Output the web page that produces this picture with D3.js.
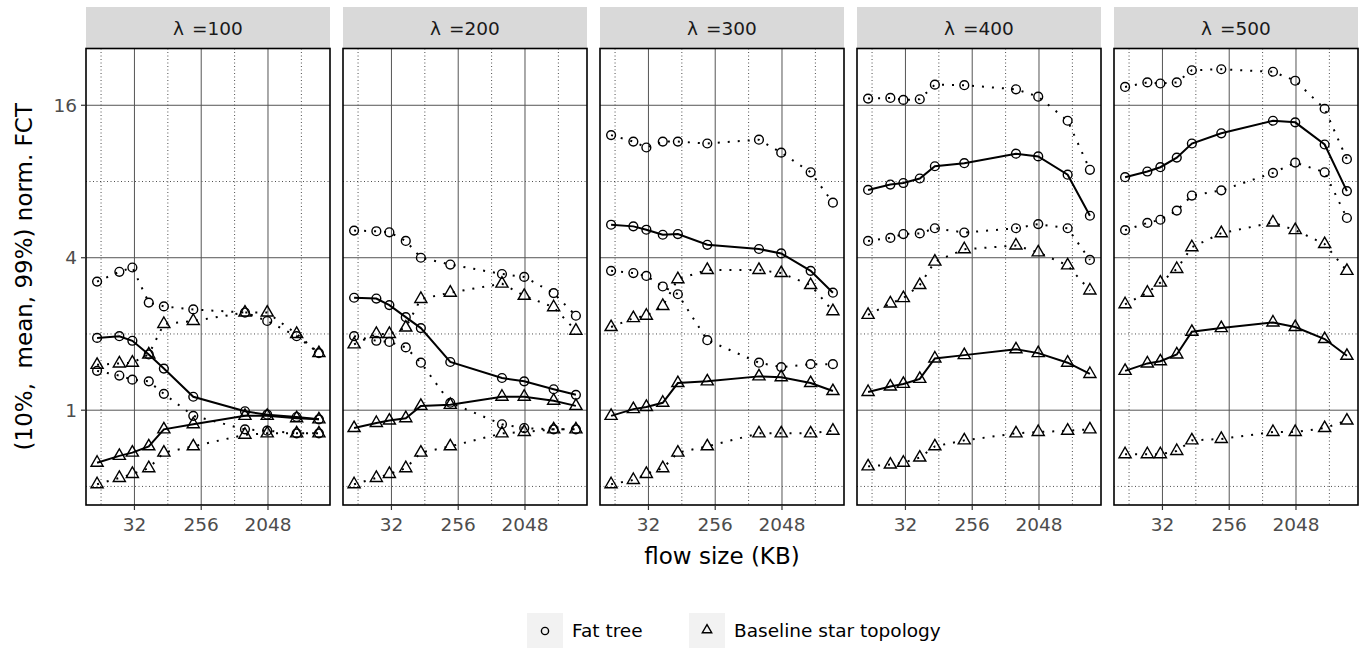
<!DOCTYPE html>
<html lang="en">
<head>
<meta charset="UTF-8">
<title>norm. FCT by flow size</title>
<script src="https://d3js.org/d3.v7.min.js"></script>
<style>
  body { margin: 0; background: #fff; }
  svg { display: block; font-family: "DejaVu Sans", sans-serif; }
</style>
</head>
<body>
<div id="chart"></div>
<script>
// flow sizes (KB) and load levels
const flowSizes = [10, 20, 30, 50, 80, 200, 1000, 2000, 5000, 10000];
const lambdas = [100, 200, 300, 400, 500];
const xTicks = [32, 256, 2048];
const yTicks = [1, 4, 16];

// one row per lambda
const fatP99 = [
  [3.22, 3.52, 3.66, 2.66, 2.57, 2.50, 2.43, 2.25, 1.96, 1.68],
  [5.12, 5.09, 5.04, 4.66, 4.00, 3.76, 3.45, 3.36, 2.90, 2.36],
  [12.2, 11.5, 10.9, 11.5, 11.5, 11.3, 11.7, 10.4, 8.7, 6.6],
  [17.0, 17.1, 16.8, 16.9, 19.3, 19.2, 18.5, 17.3, 13.9, 8.9],
  [18.9, 19.7, 19.5, 19.7, 22.0, 22.2, 21.7, 20.0, 15.5, 9.8]
];
const fatMean = [
  [1.93, 1.96, 1.88, 1.66, 1.46, 1.13, 0.99, 0.96, 0.94, 0.92],
  [2.78, 2.76, 2.60, 2.33, 2.11, 1.55, 1.34, 1.30, 1.21, 1.15],
  [5.40, 5.32, 5.16, 4.93, 4.96, 4.50, 4.33, 4.16, 3.55, 2.91],
  [7.41, 7.78, 7.89, 8.22, 9.19, 9.45, 10.3, 10.05, 8.51, 5.86],
  [8.32, 8.76, 9.11, 9.94, 11.3, 12.4, 13.9, 13.7, 11.2, 7.33]
];
const fatP10 = [
  [1.43, 1.37, 1.32, 1.30, 1.16, 0.95, 0.84, 0.83, 0.81, 0.81],
  [1.96, 1.88, 1.86, 1.77, 1.54, 1.07, 0.88, 0.85, 0.84, 0.84],
  [3.55, 3.48, 3.39, 3.08, 2.87, 1.89, 1.54, 1.48, 1.52, 1.52],
  [4.66, 4.79, 4.96, 4.99, 5.23, 5.03, 5.23, 5.43, 5.23, 3.92],
  [5.14, 5.49, 5.65, 6.14, 7.04, 7.38, 8.65, 9.50, 8.70, 5.74]
];
const starP99 = [
  [1.51, 1.53, 1.54, 1.66, 2.19, 2.25, 2.43, 2.43, 2.00, 1.68],
  [1.82, 2.00, 2.00, 2.12, 2.75, 2.91, 3.16, 2.83, 2.55, 2.06],
  [2.13, 2.31, 2.36, 2.58, 3.29, 3.58, 3.58, 3.48, 3.12, 2.46],
  [2.38, 2.64, 2.77, 3.12, 3.86, 4.32, 4.47, 4.20, 3.73, 2.97],
  [2.62, 2.91, 3.19, 3.61, 4.40, 5.00, 5.51, 5.14, 4.53, 3.55]
];
const starMean = [
  [0.62, 0.66, 0.68, 0.72, 0.84, 0.88, 0.95, 0.95, 0.93, 0.92],
  [0.85, 0.89, 0.91, 0.93, 1.04, 1.05, 1.13, 1.13, 1.09, 1.04],
  [0.95, 1.01, 1.03, 1.07, 1.28, 1.30, 1.36, 1.35, 1.28, 1.19],
  [1.18, 1.24, 1.27, 1.33, 1.60, 1.65, 1.74, 1.68, 1.54, 1.39],
  [1.43, 1.53, 1.56, 1.66, 2.04, 2.11, 2.22, 2.13, 1.91, 1.64]
];
const starP10 = [
  [0.51, 0.54, 0.56, 0.59, 0.68, 0.72, 0.80, 0.81, 0.81, 0.81],
  [0.51, 0.54, 0.56, 0.59, 0.68, 0.72, 0.81, 0.82, 0.84, 0.84],
  [0.51, 0.53, 0.56, 0.59, 0.68, 0.72, 0.81, 0.81, 0.81, 0.83],
  [0.60, 0.61, 0.62, 0.65, 0.72, 0.76, 0.81, 0.82, 0.83, 0.84],
  [0.67, 0.67, 0.67, 0.69, 0.76, 0.77, 0.82, 0.82, 0.85, 0.91]
];

const series = [
  { topo: "fat", rows: fatP99, dotted: true },
  { topo: "fat", rows: fatMean, dotted: false },
  { topo: "fat", rows: fatP10, dotted: true },
  { topo: "star", rows: starP99, dotted: true },
  { topo: "star", rows: starMean, dotted: false },
  { topo: "star", rows: starP10, dotted: true }
];

const W = 1362, H = 648;
const panelX0 = 86, panelW = 244, panelStep = 257;
const panelTop = 48.5, panelBottom = 505, stripTop = 7;
const panelH = panelBottom - panelTop;

// log2 domains with ggplot-like 5% expansion
function expandLog(vals) {
  const lo = Math.log2(d3.min(vals)), hi = Math.log2(d3.max(vals));
  const pad = (hi - lo) * 0.05;
  return [Math.pow(2, lo - pad), Math.pow(2, hi + pad)];
}
const allY = series.flatMap(s => s.rows.flat());

const x = d3.scaleLog().base(2).domain(expandLog(flowSizes)).range([0, panelW]);
const y = d3.scaleLog().base(2).domain(expandLog(allY)).range([panelH, 0]);

function minorBreaks(scale, majors) {
  const l = majors.map(Math.log2);
  const step = l[1] - l[0];
  const out = [l[0] - step / 2];
  l.forEach(v => out.push(v + step / 2));
  const [a, b] = scale.domain().map(Math.log2);
  return out.filter(v => v >= a && v <= b).map(v => Math.pow(2, v));
}
const xMinor = minorBreaks(x, xTicks);
const yMinor = minorBreaks(y, yTicks);

const svg = d3.select("#chart").append("svg")
  .attr("width", W).attr("height", H);

const triPath = "M0,-7L6.06,3.5L-6.06,3.5Z";

lambdas.forEach((lam, i) => {
  const px = panelX0 + i * panelStep;

  // strip
  svg.append("rect")
    .attr("x", px).attr("y", stripTop)
    .attr("width", panelW).attr("height", panelTop - stripTop)
    .attr("fill", "#d9d9d9");
  const st = svg.append("text")
    .attr("x", px + panelW / 2).attr("y", 35)
    .attr("text-anchor", "middle")
    .attr("font-size", 18.5).attr("fill", "#1a1a1a")
    .attr("xml:space", "preserve");
  st.append("tspan").text("λ");
  st.append("tspan").attr("dx", 8).text("=" + lam);

  const g = svg.append("g").attr("transform", `translate(${px},${panelTop})`);

  // minor grid (dotted)
  g.selectAll(".xmin").data(xMinor).enter().append("line")
    .attr("x1", d => x(d)).attr("x2", d => x(d))
    .attr("y1", 0).attr("y2", panelH)
    .attr("stroke", "#222").attr("stroke-width", 0.8)
    .attr("stroke-dasharray", "1,2.5");
  g.selectAll(".ymin").data(yMinor).enter().append("line")
    .attr("x1", 0).attr("x2", panelW)
    .attr("y1", d => y(d)).attr("y2", d => y(d))
    .attr("stroke", "#222").attr("stroke-width", 0.8)
    .attr("stroke-dasharray", "1,2.5");

  // major grid
  g.selectAll(".xmaj").data(xTicks).enter().append("line")
    .attr("x1", d => x(d)).attr("x2", d => x(d))
    .attr("y1", 0).attr("y2", panelH)
    .attr("stroke", "#555").attr("stroke-width", 1);
  g.selectAll(".ymaj").data(yTicks).enter().append("line")
    .attr("x1", 0).attr("x2", panelW)
    .attr("y1", d => y(d)).attr("y2", d => y(d))
    .attr("stroke", "#555").attr("stroke-width", 1);

  const line = d3.line()
    .x((d, j) => x(flowSizes[j]))
    .y(d => y(d));

  series.forEach(s => {
    g.append("path")
      .datum(s.rows[i])
      .attr("fill", "none")
      .attr("stroke", "#000")
      .attr("stroke-width", s.dotted ? 2 : 2)
      .attr("stroke-dasharray", s.dotted ? "2,8" : null)
      .attr("d", line);
  });

  series.forEach(s => {
    const pts = g.selectAll(null).data(s.rows[i]).enter();
    if (s.topo === "fat") {
      pts.append("circle")
        .attr("cx", (d, j) => x(flowSizes[j]))
        .attr("cy", d => y(d))
        .attr("r", 4.4)
        .attr("fill", "none").attr("stroke", "#000").attr("stroke-width", 1.4);
    } else {
      pts.append("path")
        .attr("d", triPath)
        .attr("transform", (d, j) => `translate(${x(flowSizes[j])},${y(d)})`)
        .attr("fill", "none").attr("stroke", "#000").attr("stroke-width", 1.4);
    }
  });

  // border
  g.append("rect")
    .attr("width", panelW).attr("height", panelH)
    .attr("fill", "none").attr("stroke", "#000").attr("stroke-width", 1.6);

  // x axis ticks + labels
  const xa = svg.append("g").attr("transform", `translate(${px},${panelBottom})`);
  xa.selectAll("line").data(xTicks).enter().append("line")
    .attr("x1", d => x(d)).attr("x2", d => x(d))
    .attr("y1", 0).attr("y2", 5)
    .attr("stroke", "#333").attr("stroke-width", 1.2);
  xa.selectAll("text").data(xTicks).enter().append("text")
    .attr("x", d => x(d)).attr("y", 26)
    .attr("text-anchor", "middle")
    .attr("font-size", 18.5).attr("fill", "#4d4d4d")
    .text(d => d);
});

// y axis on first panel
const ya = svg.append("g").attr("transform", `translate(${panelX0},${panelTop})`);
ya.selectAll("line").data(yTicks).enter().append("line")
  .attr("x1", -5).attr("x2", 0)
  .attr("y1", d => y(d)).attr("y2", d => y(d))
  .attr("stroke", "#333").attr("stroke-width", 1.2);
ya.selectAll("text").data(yTicks).enter().append("text")
  .attr("x", -9).attr("y", d => y(d))
  .attr("dy", "0.35em")
  .attr("text-anchor", "end")
  .attr("font-size", 18.5).attr("fill", "#4d4d4d")
  .text(d => d);

// axis titles
const plotMid = panelX0 + (4 * panelStep + panelW) / 2;
svg.append("text")
  .attr("x", plotMid).attr("y", 564)
  .attr("text-anchor", "middle")
  .attr("font-size", 23).attr("fill", "#000")
  .text("flow size (KB)");
svg.append("text")
  .attr("transform", `translate(32,${panelTop + panelH / 2}) rotate(-90)`)
  .attr("text-anchor", "middle")
  .attr("font-size", 23).attr("fill", "#000")
  .attr("xml:space", "preserve")
  .style("white-space", "pre")
  .text("(10%,  mean, 99%) norm. FCT");

// legend
const legend = svg.append("g");
const keys = [
  { label: "Fat tree", topo: "fat", x: 527 },
  { label: "Baseline star topology", topo: "star", x: 689 }
];
keys.forEach(k => {
  legend.append("rect")
    .attr("x", k.x).attr("y", 613).attr("width", 36).attr("height", 36)
    .attr("fill", "#f2f2f2");
  if (k.topo === "fat") {
    legend.append("circle")
      .attr("cx", k.x + 18).attr("cy", 631).attr("r", 3.6)
      .attr("fill", "none").attr("stroke", "#000").attr("stroke-width", 1.4);
  } else {
    legend.append("path")
      .attr("d", "M0,-5.4L4.7,2.7L-4.7,2.7Z")
      .attr("transform", `translate(${k.x + 18},630)`)
      .attr("fill", "none").attr("stroke", "#000").attr("stroke-width", 1.4);
  }
  legend.append("text")
    .attr("x", k.x + 45).attr("y", 631).attr("dy", "0.35em")
    .attr("font-size", 18.5).attr("fill", "#000")
    .text(k.label);
});
</script>
</body>
</html>
